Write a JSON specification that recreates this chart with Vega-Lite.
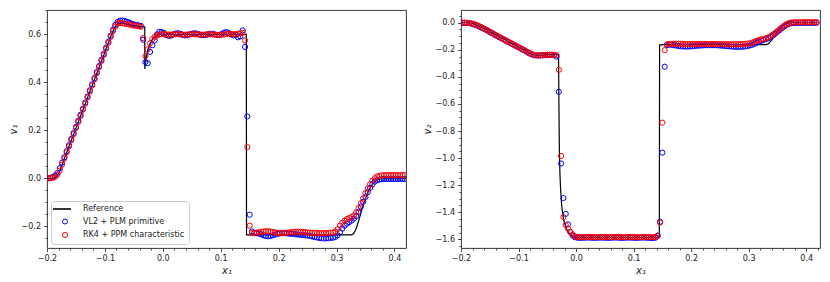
{
"$schema": "https://vega.github.io/schema/vega-lite/v6.json",
"padding": {"left": 7, "top": 9, "right": 6, "bottom": 5},
"spacing": 14,
"config": {
 "font": "DejaVu Sans",
 "view": {"stroke": "#222", "strokeWidth": 0.9},
 "axis": {"domain": false, "grid": false, "tickColor": "#222", "tickSize": 3.5, "tickWidth": 0.8, "labelFontSize": 8, "labelColor": "#222", "labelPadding": 3, "titleFontSize": 10, "titleFontWeight": "normal", "titleFontStyle": "italic", "titleColor": "#222", "titlePadding": 3, "labelFlush": false}
},
"datasets": {
 "ref1": [
  {"x":-0.2,"v":0},{"x":-0.19,"v":0},{"x":-0.186,"v":0.004},{"x":-0.182,"v":0.013},{"x":-0.178,"v":0.03},{"x":-0.174,"v":0.057},{"x":-0.088,"v":0.603},{"x":-0.084,"v":0.624},{"x":-0.08,"v":0.638},{"x":-0.076,"v":0.645},{"x":-0.07,"v":0.647},{"x":-0.06,"v":0.642},{"x":-0.05,"v":0.638},{"x":-0.04,"v":0.634},{"x":-0.0312,"v":0.632},{"x":-0.031,"v":0.456},{"x":-0.029,"v":0.5},{"x":-0.026,"v":0.535},{"x":-0.022,"v":0.562},{"x":-0.018,"v":0.58},{"x":-0.014,"v":0.591},{"x":-0.01,"v":0.597},{"x":-0.005,"v":0.6},{"x":0.1442,"v":0.6},{"x":0.1446,"v":-0.236},{"x":0.324,"v":-0.236},{"x":0.328,"v":-0.234},{"x":0.331,"v":-0.225},{"x":0.334,"v":-0.21},{"x":0.338,"v":-0.18},{"x":0.342,"v":-0.145},{"x":0.346,"v":-0.112},{"x":0.35,"v":-0.085},{"x":0.354,"v":-0.06},{"x":0.358,"v":-0.04},{"x":0.362,"v":-0.025},{"x":0.366,"v":-0.014},{"x":0.37,"v":-0.007},{"x":0.375,"v":-0.003},{"x":0.38,"v":-0.002},{"x":0.42,"v":-0.002}
 ],
 "ref2": [
  {"x":-0.2,"v":0},{"x":-0.186,"v":0},{"x":-0.182,"v":-0.004},{"x":-0.178,"v":-0.009},{"x":-0.174,"v":-0.015},{"x":-0.17,"v":-0.022},{"x":-0.162,"v":-0.038},{"x":-0.154,"v":-0.056},{"x":-0.146,"v":-0.075},{"x":-0.118,"v":-0.139},{"x":-0.09,"v":-0.202},{"x":-0.086,"v":-0.212},{"x":-0.082,"v":-0.222},{"x":-0.078,"v":-0.23},{"x":-0.074,"v":-0.236},{"x":-0.07,"v":-0.239},{"x":-0.066,"v":-0.24},{"x":-0.058,"v":-0.239},{"x":-0.046,"v":-0.236},{"x":-0.0305,"v":-0.236},{"x":-0.0298,"v":-0.6},{"x":-0.029,"v":-0.95},{"x":-0.028,"v":-1.12},{"x":-0.027,"v":-1.22},{"x":-0.025,"v":-1.35},{"x":-0.022,"v":-1.45},{"x":-0.018,"v":-1.51},{"x":-0.014,"v":-1.545},{"x":-0.01,"v":-1.566},{"x":-0.005,"v":-1.58},{"x":0,"v":-1.585},{"x":0.141,"v":-1.585},{"x":0.1447,"v":-1.575},{"x":0.1452,"v":-0.165},{"x":0.15,"v":-0.162},{"x":0.33,"v":-0.162},{"x":0.334,"v":-0.155},{"x":0.338,"v":-0.14},{"x":0.342,"v":-0.118},{"x":0.346,"v":-0.092},{"x":0.35,"v":-0.067},{"x":0.354,"v":-0.045},{"x":0.358,"v":-0.027},{"x":0.362,"v":-0.014},{"x":0.366,"v":-0.006},{"x":0.37,"v":-0.002},{"x":0.375,"v":0},{"x":0.42,"v":0}
 ],
 "pts": [
  {"x":-0.198,"b1":0,"r1":0,"b2":0,"r2":0},
  {"x":-0.194,"b1":0.002,"r1":0,"b2":0,"r2":0},
  {"x":-0.19,"b1":0.005,"r1":0.002,"b2":-0.001,"r2":-0.001},
  {"x":-0.186,"b1":0.011,"r1":0.006,"b2":-0.003,"r2":-0.002},
  {"x":-0.182,"b1":0.022,"r1":0.015,"b2":-0.007,"r2":-0.005},
  {"x":-0.178,"b1":0.042,"r1":0.032,"b2":-0.012,"r2":-0.009},
  {"x":-0.174,"b1":0.065,"r1":0.057,"b2":-0.018,"r2":-0.015},
  {"x":-0.17,"b1":0.088,"r1":0.083,"b2":-0.025,"r2":-0.022},
  {"x":-0.166,"b1":0.113,"r1":0.108,"b2":-0.033,"r2":-0.03},
  {"x":-0.162,"b1":0.138,"r1":0.133,"b2":-0.041,"r2":-0.038},
  {"x":-0.158,"b1":0.164,"r1":0.159,"b2":-0.05,"r2":-0.047},
  {"x":-0.154,"b1":0.189,"r1":0.184,"b2":-0.059,"r2":-0.056},
  {"x":-0.15,"b1":0.214,"r1":0.21,"b2":-0.069,"r2":-0.066},
  {"x":-0.146,"b1":0.24,"r1":0.235,"b2":-0.078,"r2":-0.075},
  {"x":-0.142,"b1":0.265,"r1":0.26,"b2":-0.088,"r2":-0.085},
  {"x":-0.138,"b1":0.29,"r1":0.286,"b2":-0.097,"r2":-0.094},
  {"x":-0.134,"b1":0.316,"r1":0.311,"b2":-0.106,"r2":-0.103},
  {"x":-0.13,"b1":0.341,"r1":0.337,"b2":-0.115,"r2":-0.112},
  {"x":-0.126,"b1":0.367,"r1":0.362,"b2":-0.124,"r2":-0.121},
  {"x":-0.122,"b1":0.392,"r1":0.387,"b2":-0.133,"r2":-0.13},
  {"x":-0.118,"b1":0.418,"r1":0.413,"b2":-0.142,"r2":-0.139},
  {"x":-0.114,"b1":0.443,"r1":0.438,"b2":-0.151,"r2":-0.148},
  {"x":-0.11,"b1":0.468,"r1":0.464,"b2":-0.16,"r2":-0.157},
  {"x":-0.106,"b1":0.494,"r1":0.489,"b2":-0.169,"r2":-0.166},
  {"x":-0.102,"b1":0.519,"r1":0.514,"b2":-0.178,"r2":-0.175},
  {"x":-0.098,"b1":0.545,"r1":0.54,"b2":-0.187,"r2":-0.184},
  {"x":-0.094,"b1":0.57,"r1":0.565,"b2":-0.196,"r2":-0.193},
  {"x":-0.09,"b1":0.595,"r1":0.59,"b2":-0.205,"r2":-0.202},
  {"x":-0.086,"b1":0.62,"r1":0.614,"b2":-0.215,"r2":-0.212},
  {"x":-0.082,"b1":0.64,"r1":0.633,"b2":-0.225,"r2":-0.222},
  {"x":-0.078,"b1":0.652,"r1":0.645,"b2":-0.233,"r2":-0.23},
  {"x":-0.074,"b1":0.658,"r1":0.648,"b2":-0.239,"r2":-0.236},
  {"x":-0.07,"b1":0.658,"r1":0.647,"b2":-0.242,"r2":-0.239},
  {"x":-0.066,"b1":0.656,"r1":0.645,"b2":-0.243,"r2":-0.24},
  {"x":-0.062,"b1":0.653,"r1":0.643,"b2":-0.242,"r2":-0.24},
  {"x":-0.058,"b1":0.649,"r1":0.641,"b2":-0.241,"r2":-0.239},
  {"x":-0.054,"b1":0.645,"r1":0.639,"b2":-0.24,"r2":-0.238},
  {"x":-0.05,"b1":0.642,"r1":0.637,"b2":-0.239,"r2":-0.237},
  {"x":-0.046,"b1":0.64,"r1":0.636,"b2":-0.238,"r2":-0.236},
  {"x":-0.042,"b1":0.638,"r1":0.634,"b2":-0.238,"r2":-0.236},
  {"x":-0.038,"b1":0.636,"r1":0.632,"b2":-0.24,"r2":-0.237},
  {"x":-0.034,"b1":0.578,"r1":0.585,"b2":-0.25,"r2":-0.24},
  {"x":-0.03,"b1":0.485,"r1":0.51,"b2":-0.51,"r2":-0.348},
  {"x":-0.026,"b1":0.48,"r1":0.538,"b2":-1.04,"r2":-0.984},
  {"x":-0.022,"b1":0.527,"r1":0.563,"b2":-1.295,"r2":-1.435},
  {"x":-0.018,"b1":0.555,"r1":0.58,"b2":-1.412,"r2":-1.494},
  {"x":-0.014,"b1":0.575,"r1":0.59,"b2":-1.49,"r2":-1.521},
  {"x":-0.01,"b1":0.6,"r1":0.596,"b2":-1.545,"r2":-1.545},
  {"x":-0.006,"b1":0.611,"r1":0.6,"b2":-1.572,"r2":-1.565},
  {"x":-0.002,"b1":0.61,"r1":0.601,"b2":-1.584,"r2":-1.578},
  {"x":0.002,"b1":0.606,"r1":0.601,"b2":-1.588,"r2":-1.582},
  {"x":0.006,"b1":0.598,"r1":0.6,"b2":-1.589,"r2":-1.583},
  {"x":0.01,"b1":0.594,"r1":0.599,"b2":-1.589,"r2":-1.584},
  {"x":0.014,"b1":0.595,"r1":0.599,"b2":-1.588,"r2":-1.584},
  {"x":0.018,"b1":0.6,"r1":0.6,"b2":-1.587,"r2":-1.583},
  {"x":0.022,"b1":0.604,"r1":0.601,"b2":-1.587,"r2":-1.582},
  {"x":0.026,"b1":0.605,"r1":0.601,"b2":-1.588,"r2":-1.582},
  {"x":0.03,"b1":0.603,"r1":0.6,"b2":-1.589,"r2":-1.583},
  {"x":0.034,"b1":0.599,"r1":0.599,"b2":-1.589,"r2":-1.584},
  {"x":0.038,"b1":0.596,"r1":0.599,"b2":-1.588,"r2":-1.584},
  {"x":0.042,"b1":0.597,"r1":0.6,"b2":-1.587,"r2":-1.583},
  {"x":0.046,"b1":0.6,"r1":0.6,"b2":-1.587,"r2":-1.582},
  {"x":0.05,"b1":0.603,"r1":0.601,"b2":-1.588,"r2":-1.582},
  {"x":0.054,"b1":0.605,"r1":0.601,"b2":-1.589,"r2":-1.583},
  {"x":0.058,"b1":0.604,"r1":0.6,"b2":-1.589,"r2":-1.584},
  {"x":0.062,"b1":0.601,"r1":0.6,"b2":-1.588,"r2":-1.584},
  {"x":0.066,"b1":0.598,"r1":0.599,"b2":-1.587,"r2":-1.583},
  {"x":0.07,"b1":0.597,"r1":0.599,"b2":-1.587,"r2":-1.582},
  {"x":0.074,"b1":0.598,"r1":0.6,"b2":-1.588,"r2":-1.582},
  {"x":0.078,"b1":0.601,"r1":0.6,"b2":-1.589,"r2":-1.583},
  {"x":0.082,"b1":0.603,"r1":0.601,"b2":-1.589,"r2":-1.584},
  {"x":0.086,"b1":0.603,"r1":0.6,"b2":-1.588,"r2":-1.584},
  {"x":0.09,"b1":0.6,"r1":0.599,"b2":-1.587,"r2":-1.583},
  {"x":0.094,"b1":0.598,"r1":0.598,"b2":-1.587,"r2":-1.582},
  {"x":0.098,"b1":0.598,"r1":0.598,"b2":-1.588,"r2":-1.582},
  {"x":0.102,"b1":0.602,"r1":0.599,"b2":-1.589,"r2":-1.583},
  {"x":0.106,"b1":0.608,"r1":0.6,"b2":-1.589,"r2":-1.584},
  {"x":0.11,"b1":0.61,"r1":0.602,"b2":-1.588,"r2":-1.584},
  {"x":0.114,"b1":0.606,"r1":0.603,"b2":-1.587,"r2":-1.583},
  {"x":0.118,"b1":0.6,"r1":0.602,"b2":-1.587,"r2":-1.582},
  {"x":0.122,"b1":0.596,"r1":0.601,"b2":-1.588,"r2":-1.582},
  {"x":0.126,"b1":0.598,"r1":0.601,"b2":-1.589,"r2":-1.583},
  {"x":0.13,"b1":0.588,"r1":0.603,"b2":-1.59,"r2":-1.584},
  {"x":0.134,"b1":0.592,"r1":0.605,"b2":-1.59,"r2":-1.584},
  {"x":0.138,"b1":0.617,"r1":0.607,"b2":-1.588,"r2":-1.582},
  {"x":0.142,"b1":0.548,"r1":0.575,"b2":-1.572,"r2":-1.575},
  {"x":0.146,"b1":0.258,"r1":0.13,"b2":-1.47,"r2":-1.475},
  {"x":0.15,"b1":-0.152,"r1":-0.198,"b2":-0.96,"r2":-0.738},
  {"x":0.154,"b1":-0.222,"r1":-0.228,"b2":-0.325,"r2":-0.203},
  {"x":0.158,"b1":-0.228,"r1":-0.229,"b2":-0.165,"r2":-0.16},
  {"x":0.162,"b1":-0.229,"r1":-0.227,"b2":-0.162,"r2":-0.157},
  {"x":0.166,"b1":-0.231,"r1":-0.225,"b2":-0.163,"r2":-0.156},
  {"x":0.17,"b1":-0.234,"r1":-0.223,"b2":-0.166,"r2":-0.155},
  {"x":0.174,"b1":-0.238,"r1":-0.222,"b2":-0.169,"r2":-0.155},
  {"x":0.178,"b1":-0.241,"r1":-0.221,"b2":-0.172,"r2":-0.155},
  {"x":0.182,"b1":-0.242,"r1":-0.221,"b2":-0.174,"r2":-0.156},
  {"x":0.186,"b1":-0.241,"r1":-0.222,"b2":-0.175,"r2":-0.157},
  {"x":0.19,"b1":-0.238,"r1":-0.224,"b2":-0.176,"r2":-0.158},
  {"x":0.194,"b1":-0.235,"r1":-0.226,"b2":-0.176,"r2":-0.158},
  {"x":0.198,"b1":-0.232,"r1":-0.228,"b2":-0.175,"r2":-0.158},
  {"x":0.202,"b1":-0.23,"r1":-0.229,"b2":-0.174,"r2":-0.158},
  {"x":0.206,"b1":-0.229,"r1":-0.229,"b2":-0.172,"r2":-0.157},
  {"x":0.21,"b1":-0.229,"r1":-0.228,"b2":-0.17,"r2":-0.157},
  {"x":0.214,"b1":-0.23,"r1":-0.227,"b2":-0.169,"r2":-0.157},
  {"x":0.218,"b1":-0.231,"r1":-0.226,"b2":-0.168,"r2":-0.157},
  {"x":0.222,"b1":-0.232,"r1":-0.225,"b2":-0.167,"r2":-0.157},
  {"x":0.226,"b1":-0.233,"r1":-0.224,"b2":-0.166,"r2":-0.157},
  {"x":0.23,"b1":-0.234,"r1":-0.223,"b2":-0.166,"r2":-0.157},
  {"x":0.234,"b1":-0.235,"r1":-0.223,"b2":-0.166,"r2":-0.157},
  {"x":0.238,"b1":-0.236,"r1":-0.223,"b2":-0.166,"r2":-0.157},
  {"x":0.242,"b1":-0.237,"r1":-0.224,"b2":-0.166,"r2":-0.157},
  {"x":0.246,"b1":-0.238,"r1":-0.225,"b2":-0.167,"r2":-0.157},
  {"x":0.25,"b1":-0.239,"r1":-0.226,"b2":-0.168,"r2":-0.158},
  {"x":0.254,"b1":-0.241,"r1":-0.227,"b2":-0.17,"r2":-0.158},
  {"x":0.258,"b1":-0.243,"r1":-0.228,"b2":-0.171,"r2":-0.158},
  {"x":0.262,"b1":-0.245,"r1":-0.228,"b2":-0.173,"r2":-0.158},
  {"x":0.266,"b1":-0.247,"r1":-0.228,"b2":-0.174,"r2":-0.159},
  {"x":0.27,"b1":-0.249,"r1":-0.229,"b2":-0.176,"r2":-0.159},
  {"x":0.274,"b1":-0.25,"r1":-0.229,"b2":-0.177,"r2":-0.159},
  {"x":0.278,"b1":-0.251,"r1":-0.229,"b2":-0.178,"r2":-0.159},
  {"x":0.282,"b1":-0.251,"r1":-0.229,"b2":-0.178,"r2":-0.159},
  {"x":0.286,"b1":-0.25,"r1":-0.228,"b2":-0.178,"r2":-0.158},
  {"x":0.29,"b1":-0.249,"r1":-0.227,"b2":-0.177,"r2":-0.157},
  {"x":0.294,"b1":-0.248,"r1":-0.226,"b2":-0.175,"r2":-0.156},
  {"x":0.298,"b1":-0.245,"r1":-0.222,"b2":-0.172,"r2":-0.155},
  {"x":0.302,"b1":-0.238,"r1":-0.212,"b2":-0.168,"r2":-0.152},
  {"x":0.306,"b1":-0.225,"r1":-0.198,"b2":-0.163,"r2":-0.147},
  {"x":0.31,"b1":-0.21,"r1":-0.186,"b2":-0.156,"r2":-0.14},
  {"x":0.314,"b1":-0.198,"r1":-0.177,"b2":-0.148,"r2":-0.133},
  {"x":0.318,"b1":-0.19,"r1":-0.17,"b2":-0.14,"r2":-0.127},
  {"x":0.322,"b1":-0.183,"r1":-0.166,"b2":-0.133,"r2":-0.123},
  {"x":0.326,"b1":-0.177,"r1":-0.162,"b2":-0.127,"r2":-0.12},
  {"x":0.33,"b1":-0.168,"r1":-0.155,"b2":-0.121,"r2":-0.115},
  {"x":0.334,"b1":-0.158,"r1":-0.142,"b2":-0.115,"r2":-0.108},
  {"x":0.338,"b1":-0.14,"r1":-0.125,"b2":-0.106,"r2":-0.1},
  {"x":0.342,"b1":-0.118,"r1":-0.105,"b2":-0.095,"r2":-0.088},
  {"x":0.346,"b1":-0.098,"r1":-0.084,"b2":-0.082,"r2":-0.075},
  {"x":0.35,"b1":-0.078,"r1":-0.062,"b2":-0.068,"r2":-0.062},
  {"x":0.354,"b1":-0.058,"r1":-0.042,"b2":-0.054,"r2":-0.048},
  {"x":0.358,"b1":-0.04,"r1":-0.025,"b2":-0.04,"r2":-0.034},
  {"x":0.362,"b1":-0.025,"r1":-0.01,"b2":-0.027,"r2":-0.021},
  {"x":0.366,"b1":-0.014,"r1":0,"b2":-0.016,"r2":-0.01},
  {"x":0.37,"b1":-0.008,"r1":0.007,"b2":-0.008,"r2":-0.003},
  {"x":0.374,"b1":-0.005,"r1":0.01,"b2":-0.004,"r2":0.001},
  {"x":0.378,"b1":-0.004,"r1":0.012,"b2":-0.002,"r2":0.003},
  {"x":0.382,"b1":-0.003,"r1":0.013,"b2":-0.001,"r2":0.004},
  {"x":0.386,"b1":-0.003,"r1":0.013,"b2":-0.001,"r2":0.004},
  {"x":0.39,"b1":-0.003,"r1":0.013,"b2":-0.001,"r2":0.004},
  {"x":0.394,"b1":-0.003,"r1":0.013,"b2":-0.001,"r2":0.004},
  {"x":0.398,"b1":-0.003,"r1":0.013,"b2":-0.001,"r2":0.004},
  {"x":0.402,"b1":-0.003,"r1":0.013,"b2":-0.001,"r2":0.004},
  {"x":0.406,"b1":-0.003,"r1":0.013,"b2":-0.001,"r2":0.004},
  {"x":0.41,"b1":-0.003,"r1":0.013,"b2":-0.001,"r2":0.004},
  {"x":0.414,"b1":-0.003,"r1":0.013,"b2":-0.001,"r2":0.004},
  {"x":0.418,"b1":-0.003,"r1":0.013,"b2":-0.001,"r2":0.004}
 ]
},
"resolve": {"scale": {"color": "independent"}},
"hconcat": [
 {
  "width": 359, "height": 238,
  "resolve": {"axis": {"x": "independent", "y": "independent"}},
  "layer": [
   {"data": {"name": "ref1"}, "mark": {"type": "line", "strokeWidth": 1.2, "clip": true},
    "encoding": {
     "x": {"field": "x", "type": "quantitative", "scale": {"domain": [-0.2, 0.42], "nice": false, "zero": false}, "axis": {"orient": "bottom", "values": [-0.2,-0.1,0,0.1,0.2,0.3,0.4], "format": ".1f", "title": "x₁"}},
     "y": {"field": "v", "type": "quantitative", "scale": {"domain": [-0.291, 0.702], "nice": false, "zero": false}, "axis": {"orient": "left", "values": [-0.2,0,0.2,0.4,0.6], "format": ".1f", "title": "v₁"}},
     "color": {"datum": "Reference", "type": "nominal",
      "scale": {"domain": ["Reference", "VL2 + PLM primitive", "RK4 + PPM characteristic"], "range": ["#000000", "#0000ff", "#ff0000"]},
      "legend": {"orient": "bottom-left", "offset": 4, "title": null, "padding": 4, "fillColor": "white", "strokeColor": "#cccccc", "cornerRadius": 3, "labelFontSize": 8, "labelColor": "#222", "symbolSize": 25, "symbolStrokeWidth": 1, "rowPadding": 3.5, "labelOffset": 14, "symbolOffset": 6,
       "encode": {"symbols": {"update": {"shape": {"signal": "datum.value === 'Reference' ? 'M-4.8,0H2.4' : 'circle'"}, "fill": {"value": "transparent"}, "strokeWidth": {"signal": "datum.value === 'Reference' ? 1.6 : 1"}}}}}}
    }},
   {"data": {"name": "pts"}, "mark": {"type": "point", "shape": "circle", "filled": false, "size": 27, "strokeWidth": 1, "opacity": 1, "clip": true},
    "encoding": {
     "x": {"field": "x", "type": "quantitative", "axis": {"orient": "bottom", "values": [-0.18,-0.16,-0.14,-0.12,-0.08,-0.06,-0.04,-0.02,0.02,0.04,0.06,0.08,0.12,0.14,0.16,0.18,0.22,0.24,0.26,0.28,0.32,0.34,0.36,0.38], "labels": false, "tickSize": 2, "title": null}},
     "y": {"field": "b1", "type": "quantitative", "axis": {"orient": "left", "values": [-0.25,-0.15,-0.1,-0.05,0.05,0.1,0.15,0.25,0.3,0.35,0.45,0.5,0.55,0.65,0.7], "labels": false, "tickSize": 2, "title": null}},
     "color": {"datum": "VL2 + PLM primitive", "type": "nominal"}
    }},
   {"data": {"name": "pts"}, "mark": {"type": "point", "shape": "circle", "filled": false, "size": 27, "strokeWidth": 1, "opacity": 1, "clip": true},
    "encoding": {
     "x": {"field": "x", "type": "quantitative", "axis": null},
     "y": {"field": "r1", "type": "quantitative", "axis": null},
     "color": {"datum": "RK4 + PPM characteristic", "type": "nominal"}
    }}
  ]
 },
 {
  "width": 359, "height": 238,
  "resolve": {"axis": {"x": "independent", "y": "independent"}},
  "layer": [
   {"data": {"name": "ref2"}, "mark": {"type": "line", "strokeWidth": 1.2, "clip": true},
    "encoding": {
     "x": {"field": "x", "type": "quantitative", "scale": {"domain": [-0.2, 0.424], "nice": false, "zero": false}, "axis": {"orient": "bottom", "values": [-0.2,-0.1,0,0.1,0.2,0.3,0.4], "format": ".1f", "title": "x₁"}},
     "y": {"field": "v", "type": "quantitative", "scale": {"domain": [-1.664, 0.094], "nice": false, "zero": false}, "axis": {"orient": "left", "values": [-1.6,-1.4,-1.2,-1,-0.8,-0.6,-0.4,-0.2,0], "format": ".1f", "title": "v₂"}},
     "color": {"datum": "Reference", "type": "nominal",
      "scale": {"domain": ["Reference", "VL2 + PLM primitive", "RK4 + PPM characteristic"], "range": ["#000000", "#0000ff", "#ff0000"]}, "legend": null}
    }},
   {"data": {"name": "pts"}, "mark": {"type": "point", "shape": "circle", "filled": false, "size": 27, "strokeWidth": 1, "opacity": 1, "clip": true},
    "encoding": {
     "x": {"field": "x", "type": "quantitative", "axis": {"orient": "bottom", "values": [-0.18,-0.16,-0.14,-0.12,-0.08,-0.06,-0.04,-0.02,0.02,0.04,0.06,0.08,0.12,0.14,0.16,0.18,0.22,0.24,0.26,0.28,0.32,0.34,0.36,0.38,0.42], "labels": false, "tickSize": 2, "title": null}},
     "y": {"field": "b2", "type": "quantitative", "axis": {"orient": "left", "values": [-1.65,-1.55,-1.5,-1.45,-1.35,-1.3,-1.25,-1.15,-1.1,-1.05,-0.95,-0.9,-0.85,-0.75,-0.7,-0.65,-0.55,-0.5,-0.45,-0.35,-0.3,-0.25,-0.15,-0.1,-0.05,0.05], "labels": false, "tickSize": 2, "title": null}},
     "color": {"datum": "VL2 + PLM primitive", "type": "nominal", "legend": null}
    }},
   {"data": {"name": "pts"}, "mark": {"type": "point", "shape": "circle", "filled": false, "size": 27, "strokeWidth": 1, "opacity": 1, "clip": true},
    "encoding": {
     "x": {"field": "x", "type": "quantitative", "axis": null},
     "y": {"field": "r2", "type": "quantitative", "axis": null},
     "color": {"datum": "RK4 + PPM characteristic", "type": "nominal", "legend": null}
    }}
  ]
 }
]
}
